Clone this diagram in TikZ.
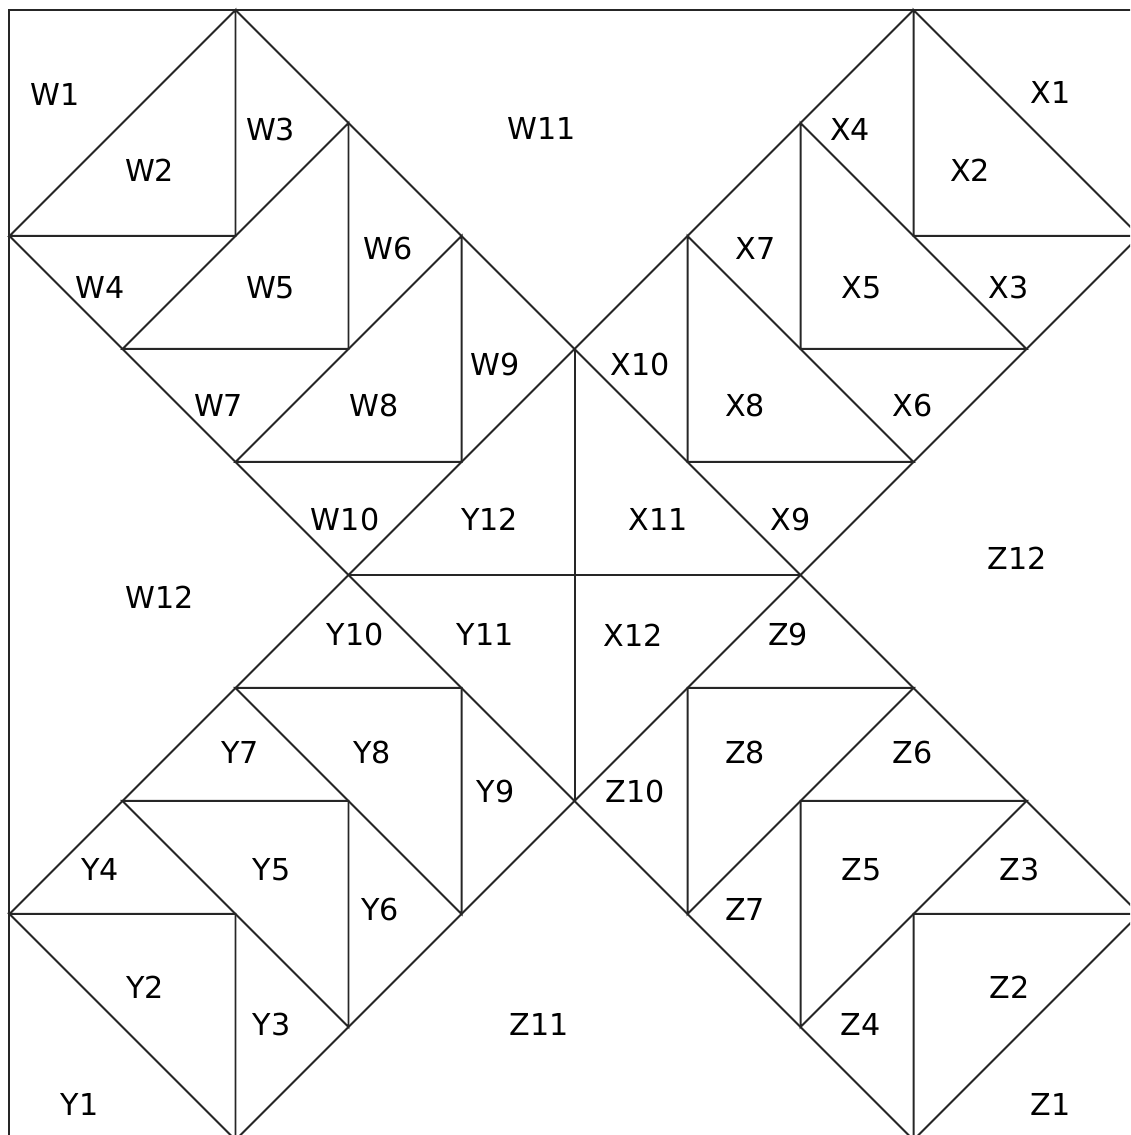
\documentclass[tikz,border=0pt]{standalone}
\usepackage{fontspec}
\setmainfont{DejaVu Sans}
\begin{document}
\begin{tikzpicture}[x=1cm, y=-1cm,
    seam/.style={line width=0.5pt, black!85},
    patch/.style={font=\fontsize{7.6}{9}\selectfont, inner sep=0pt}]
    \path[use as bounding box, clip] (-0.084,-0.088) rectangle (9.916,9.956);

    % Outer border (right and bottom fall outside the frame)
    \draw[seam] (0,10) -- (0,0) -- (10,0) -- (10,10) -- cycle;

    % Long diagonals
    \draw[seam] (0,2) -- (8,10);
    \draw[seam] (2,0) -- (10,8);
    \draw[seam] (0,8) -- (8,0);
    \draw[seam] (2,10) -- (10,2);

    % Centre cross
    \draw[seam] (5,3) -- (5,7);
    \draw[seam] (3,5) -- (7,5);

    % Half-square triangles of the four arms
    \foreach \k in {0,1,2} {
        % W arm
        \draw[seam] (\k,2+\k) -- (2+\k,\k) -- (2+\k,2+\k) -- cycle;
        % X arm
        \draw[seam] (8-\k,\k) -- (10-\k,2+\k) -- (8-\k,2+\k) -- cycle;
        % Y arm
        \draw[seam] (\k,8-\k) -- (2+\k,8-\k) -- (2+\k,10-\k) -- cycle;
        % Z arm
        \draw[seam] (10-\k,8-\k) -- (8-\k,10-\k) -- (8-\k,8-\k) -- cycle;
    }

    % Patch labels
    \foreach \lbl/\px/\py in {
        W1/0.40/0.75, W2/1.24/1.42, W3/2.31/1.06, W4/0.80/2.46,
        W5/2.31/2.46, W6/3.35/2.11, W7/1.85/3.50, W8/3.23/3.50,
        W9/4.30/3.14, W10/2.97/4.51, W11/4.71/1.05, W12/1.33/5.20,
        X1/9.21/0.73, X2/8.50/1.42, X3/8.84/2.46, X4/7.44/1.06,
        X5/7.54/2.46, X6/7.99/3.50, X7/6.60/2.11, X8/6.51/3.50,
        X9/6.91/4.51, X10/5.58/3.14, X11/5.74/4.51, X12/5.52/5.53,
        Y1/0.62/9.69, Y2/1.20/8.65, Y3/2.32/8.98, Y4/0.80/7.61,
        Y5/2.32/7.61, Y6/3.28/7.96, Y7/2.04/6.57, Y8/3.21/6.57,
        Y9/4.30/6.92, Y10/3.06/5.53, Y11/4.21/5.53, Y12/4.25/4.51,
        Z1/9.21/9.69, Z2/8.85/8.65, Z3/8.94/7.61, Z4/7.53/8.98,
        Z5/7.54/7.61, Z6/7.99/6.57, Z7/6.51/7.96, Z8/6.51/6.57,
        Z9/6.89/5.53, Z10/5.54/6.92, Z11/4.69/8.98, Z12/8.92/4.85} {
        \node[patch] (\lbl) at (\px,\py) {\lbl};
    }
\end{tikzpicture}
\end{document}
